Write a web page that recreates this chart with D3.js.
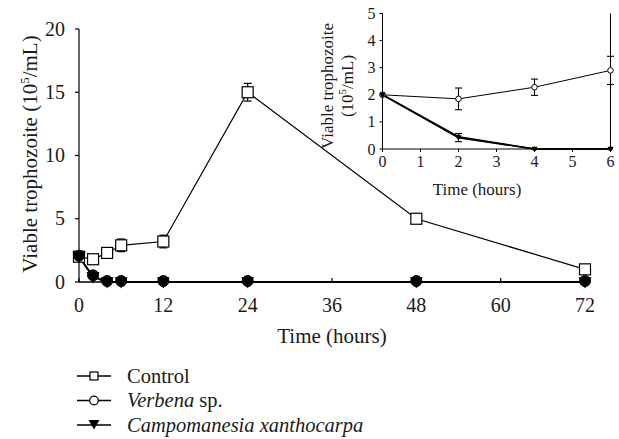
<!DOCTYPE html>
<html><head><meta charset="utf-8">
<script src="https://cdn.jsdelivr.net/npm/d3@7"></script>
<style>body{margin:0;background:#fff}svg{display:block}svg text{font-family:"Liberation Serif","Times New Roman",serif !important}</style>
</head><body><div id="c"></div>
<script>
// Main chart data
const hours = [0, 2, 4, 6, 12, 24, 48, 72];
const controlVals = [2, 1.8, 2.3, 2.9, 3.2, 15, 5, 1];
const controlErr = [0.1, 0.35, 0.15, 0.5, 0.5, 0.7, 0.1, 0.1];
const verbenaVals = [2, 0.45, 0, 0, 0, 0, 0, 0];
const campoVals = [2, 0.4, 0, 0, 0, 0, 0, 0];
const xTicks = [0, 12, 24, 36, 48, 60, 72];
const yTicks = [0, 5, 10, 15, 20];
// Inset data
const insetHours = [0, 2, 4, 6];
const insetControl = [2, 1.85, 2.28, 2.9];
const insetControlErr = [0, 0.4, 0.3, 0.52];
const insetVerbena = [2, 0.45, 0, 0];
const insetCampo = [2, 0.42, 0, 0];
const insetCampoErr = [0, 0.15, 0, 0];
const insetXTicks = [0, 1, 2, 3, 4, 5, 6];
const insetYTicks = [0, 1, 2, 3, 4, 5];
const legendLabels = [["Control", ""], ["Verbena", " sp."], ["Campomanesia xanthocarpa", ""]];

const W = 619, H = 439;
const svg = d3.select("#c").append("svg").attr("width", W).attr("height", H);
const txt = (sel) => sel.append("text").attr("fill", "#1a1a1a");

// ---------- main chart ----------
const x = d3.scaleLinear().domain([0, 72]).range([79, 585]);
const y = d3.scaleLinear().domain([0, 20]).range([282, 29]);
const g = svg.append("g");

g.append("line").attr("x1", x(0)).attr("x2", x(0)).attr("y1", y(0)).attr("y2", y(20)).attr("stroke", "#000").attr("stroke-width", 1.2);
yTicks.forEach(t => {
  g.append("line").attr("x1", x(0) - 4).attr("x2", x(0)).attr("y1", y(t)).attr("y2", y(t)).attr("stroke", "#000").attr("stroke-width", 1.2);
  txt(g).attr("x", x(0) - 14).attr("y", y(t) + 6.5).attr("text-anchor", "end").attr("font-size", 20).text(t);
});
g.append("line").attr("x1", x(0)).attr("x2", x(72) + 2).attr("y1", y(0)).attr("y2", y(0)).attr("stroke", "#000").attr("stroke-width", 1.5);
xTicks.forEach(t => {
  g.append("line").attr("x1", x(t)).attr("x2", x(t)).attr("y1", y(0)).attr("y2", y(0) - 4).attr("stroke", "#000").attr("stroke-width", 1.2);
  txt(g).attr("x", x(t)).attr("y", 312).attr("text-anchor", "middle").attr("font-size", 20).text(t);
});
txt(g).attr("x", 332).attr("y", 343).attr("text-anchor", "middle").attr("font-size", 21).text("Time (hours)");
const yl = txt(g).attr("transform", "translate(37,154) rotate(-90)").attr("text-anchor", "middle").attr("font-size", 21);
yl.append("tspan").text("Viable trophozoite (10");
yl.append("tspan").attr("dy", -8).attr("font-size", 13).text("5");
yl.append("tspan").attr("dy", 8).text("/mL)");

const line = d3.line().x(d => x(d[0])).y(d => y(d[1]));
const zip = (a, b) => a.map((v, i) => [v, b[i]]);

hours.forEach((h, i) => {
  const e = controlErr[i];
  if (e < 0.2) return;
  const cx = x(h);
  g.append("line").attr("x1", cx).attr("x2", cx).attr("y1", y(controlVals[i] - e)).attr("y2", y(controlVals[i] + e)).attr("stroke", "#000").attr("stroke-width", 1.2);
  [-e, e].forEach(s => g.append("line").attr("x1", cx - 4).attr("x2", cx + 4).attr("y1", y(controlVals[i] + s)).attr("y2", y(controlVals[i] + s)).attr("stroke", "#000").attr("stroke-width", 1.2));
});

g.append("path").attr("d", line(zip(hours, controlVals))).attr("fill", "none").attr("stroke", "#000").attr("stroke-width", 1.2);
g.append("path").attr("d", line(zip(hours, verbenaVals))).attr("fill", "none").attr("stroke", "#000").attr("stroke-width", 1.5);
g.append("path").attr("d", line(zip(hours, campoVals))).attr("fill", "none").attr("stroke", "#000").attr("stroke-width", 1.8);

const sq = 11;
hours.forEach((h, i) => {
  g.append("rect").attr("x", x(h) - sq / 2).attr("y", y(controlVals[i]) - sq / 2).attr("width", sq).attr("height", sq).attr("fill", "#fff").attr("stroke", "#000").attr("stroke-width", 1.2);
});
hours.forEach((h, i) => {
  g.append("circle").attr("cx", x(h)).attr("cy", y(verbenaVals[i]) - 1).attr("r", 5.5).attr("fill", "#111").attr("stroke", "#000");
});
const tri = (cx, cy, s) => `M${cx - s},${cy - s * 0.75}L${cx + s},${cy - s * 0.75}L${cx},${cy + s}Z`;
hours.forEach((h, i) => {
  g.append("path").attr("d", tri(x(h), y(campoVals[i]), 6.5)).attr("fill", "#000");
});

// ---------- inset ----------
const ix = d3.scaleLinear().domain([0, 6]).range([382.5, 610.5]);
const iy = d3.scaleLinear().domain([0, 5]).range([149, 13.5]);
const ig = svg.append("g");
ig.append("line").attr("x1", ix(0)).attr("x2", ix(0)).attr("y1", iy(0)).attr("y2", iy(5)).attr("stroke", "#000").attr("stroke-width", 1);
ig.append("line").attr("x1", ix(6)).attr("x2", ix(6)).attr("y1", iy(0)).attr("y2", iy(5)).attr("stroke", "#000").attr("stroke-width", 1);
ig.append("line").attr("x1", ix(0)).attr("x2", ix(6)).attr("y1", iy(0)).attr("y2", iy(0)).attr("stroke", "#000").attr("stroke-width", 1);
insetYTicks.forEach(t => {
  ig.append("line").attr("x1", ix(0) - 3).attr("x2", ix(0)).attr("y1", iy(t)).attr("y2", iy(t)).attr("stroke", "#000");
  txt(ig).attr("x", ix(0) - 7).attr("y", iy(t) + 5.5).attr("text-anchor", "end").attr("font-size", 16).text(t);
});
insetXTicks.forEach(t => {
  ig.append("line").attr("x1", ix(t)).attr("x2", ix(t)).attr("y1", iy(0)).attr("y2", iy(0) + 3).attr("stroke", "#000");
  txt(ig).attr("x", ix(t)).attr("y", iy(0) + 18).attr("text-anchor", "middle").attr("font-size", 16).text(t);
});
txt(ig).attr("x", 477).attr("y", 195).attr("text-anchor", "middle").attr("font-size", 17).text("Time (hours)");
txt(ig).attr("transform", "translate(333,86) rotate(-90)").attr("text-anchor", "middle").attr("font-size", 17).text("Viable trophozoite");
const il2 = txt(ig).attr("transform", "translate(353,86) rotate(-90)").attr("text-anchor", "middle").attr("font-size", 17);
il2.append("tspan").text("(10");
il2.append("tspan").attr("dy", -7).attr("font-size", 11).text("5");
il2.append("tspan").attr("dy", 7).text("/mL)");

const iline = d3.line().x(d => ix(d[0])).y(d => iy(d[1]));
const ebar = (arrV, arrE) => insetHours.forEach((h, i) => {
  const e = arrE[i]; if (!e) return;
  const cx = ix(h);
  ig.append("line").attr("x1", cx).attr("x2", cx).attr("y1", iy(arrV[i] - e)).attr("y2", iy(arrV[i] + e)).attr("stroke", "#000").attr("stroke-width", 1.1);
  [-e, e].forEach(s => ig.append("line").attr("x1", cx - 3.5).attr("x2", cx + 3.5).attr("y1", iy(arrV[i] + s)).attr("y2", iy(arrV[i] + s)).attr("stroke", "#000").attr("stroke-width", 1.1));
});
ebar(insetControl, insetControlErr);
ebar(insetCampo, insetCampoErr);
ig.append("path").attr("d", iline(zip(insetHours, insetControl))).attr("fill", "none").attr("stroke", "#000").attr("stroke-width", 1);
ig.append("path").attr("d", iline(zip(insetHours, insetVerbena))).attr("fill", "none").attr("stroke", "#000").attr("stroke-width", 1.6);
ig.append("path").attr("d", iline(zip(insetHours, insetCampo))).attr("fill", "none").attr("stroke", "#000").attr("stroke-width", 1.6);
insetHours.forEach((h, i) => {
  ig.append("circle").attr("cx", ix(h)).attr("cy", iy(insetControl[i])).attr("r", 2.8).attr("fill", "#fff").attr("stroke", "#000").attr("stroke-width", 1);
  ig.append("circle").attr("cx", ix(h)).attr("cy", iy(insetVerbena[i])).attr("r", 2.2).attr("fill", "#000");
  ig.append("path").attr("d", tri(ix(h), iy(insetCampo[i]), 3)).attr("fill", "#000");
});

// ---------- legend ----------
const lg = svg.append("g");
legendLabels.forEach((lab, i) => {
  const ly = 376 + i * 24.5;
  lg.append("line").attr("x1", 77).attr("x2", 111).attr("y1", ly).attr("y2", ly).attr("stroke", "#000").attr("stroke-width", 1.3);
  if (i === 0) lg.append("rect").attr("x", 90).attr("y", ly - 4).attr("width", 8).attr("height", 8).attr("fill", "#fff").attr("stroke", "#000").attr("stroke-width", 1.2);
  if (i === 1) lg.append("circle").attr("cx", 94).attr("cy", ly).attr("r", 4.3).attr("fill", "#fff").attr("stroke", "#000").attr("stroke-width", 1.2);
  if (i === 2) lg.append("path").attr("d", tri(94, ly - 1, 5.5)).attr("fill", "#000");
  const t = txt(lg).attr("x", 127).attr("y", ly + 6.5).attr("font-size", 20.5);
  if (i === 0) t.text(lab[0]);
  else { t.append("tspan").attr("font-style", "italic").text(lab[0]); if (lab[1]) t.append("tspan").text(lab[1]); }
});
</script></body></html>
